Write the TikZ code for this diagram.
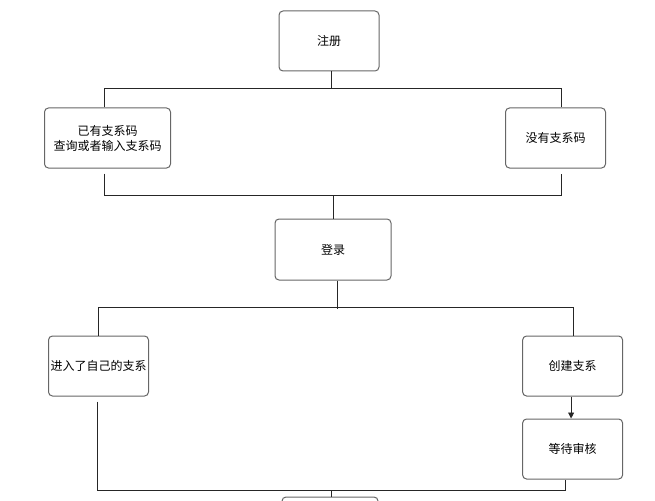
\documentclass[tikz,border=0pt]{standalone}
\usepackage{fontspec}
\setmainfont{Noto Sans CJK SC}
\usetikzlibrary{arrows.meta}

\begin{document}
\begin{tikzpicture}[x=1pt, y=1pt,
        box/.style={rectangle, draw=black!60, line width=1pt, rounded corners=4pt,
            minimum width=100pt, minimum height=60pt, inner sep=1pt, align=center,
            font=\fontsize{12}{15}\selectfont},
        link/.style={draw=black!85, line width=0.9pt}]
    \useasboundingbox (0,0) rectangle (655,-500);
    \node[box] (reg) at (329,-41) {注册};
    \node[box, minimum width=126pt] (has) at (107.5,-138) {已有支系码\\查询或者输入支系码};
    \node[box] (nohas) at (555.5,-138) {没有支系码};
    \node[box, minimum width=116pt, minimum height=61pt] (login) at (333,-249.5) {登录};
    \node[box] (enter) at (98.5,-366) {进入了自己的支系};
    \node[box] (create) at (572.6,-366) {创建支系};
    \node[box] (wait) at (572.6,-449) {等待审核};
    \node[box, minimum width=96pt] (next) at (330,-527) {};

    % 注册 -> 两种情况
    \draw[link] ([xshift=2pt]reg.south) -- ++(0,-18);
    \draw[link] ([xshift=-3.5pt]has.north) -- ++(0,19) -| ([xshift=6pt]nohas.north);
    % 两种情况 -> 登录
    \draw[link] ([xshift=-3.5pt,yshift=-5pt]has.south) -- ++(0,-22) -| ([xshift=6pt,yshift=-5pt]nohas.south);
    \draw[link] (login.north) -- ++(0,24);
    % 登录 -> 进入 / 创建
    \draw[link] ([xshift=4pt]login.south) -- ++(0,-28);
    \draw[link] (enter.north) -- ++(0,28) -| ([xshift=1pt]create.north);
    \draw[link, -{Triangle[length=6pt, width=6pt]}] ([xshift=-1.5pt]create.south) -- ([xshift=-1.5pt]wait.north);
    % 汇合
    \draw[link] ([xshift=-1.5pt,yshift=-5pt]enter.south) -- ++(0,-89) -| ([xshift=-7.6pt]wait.south);
    \draw[link] ([xshift=1pt]next.north) -- ++(0,7);
\end{tikzpicture}
\end{document}
